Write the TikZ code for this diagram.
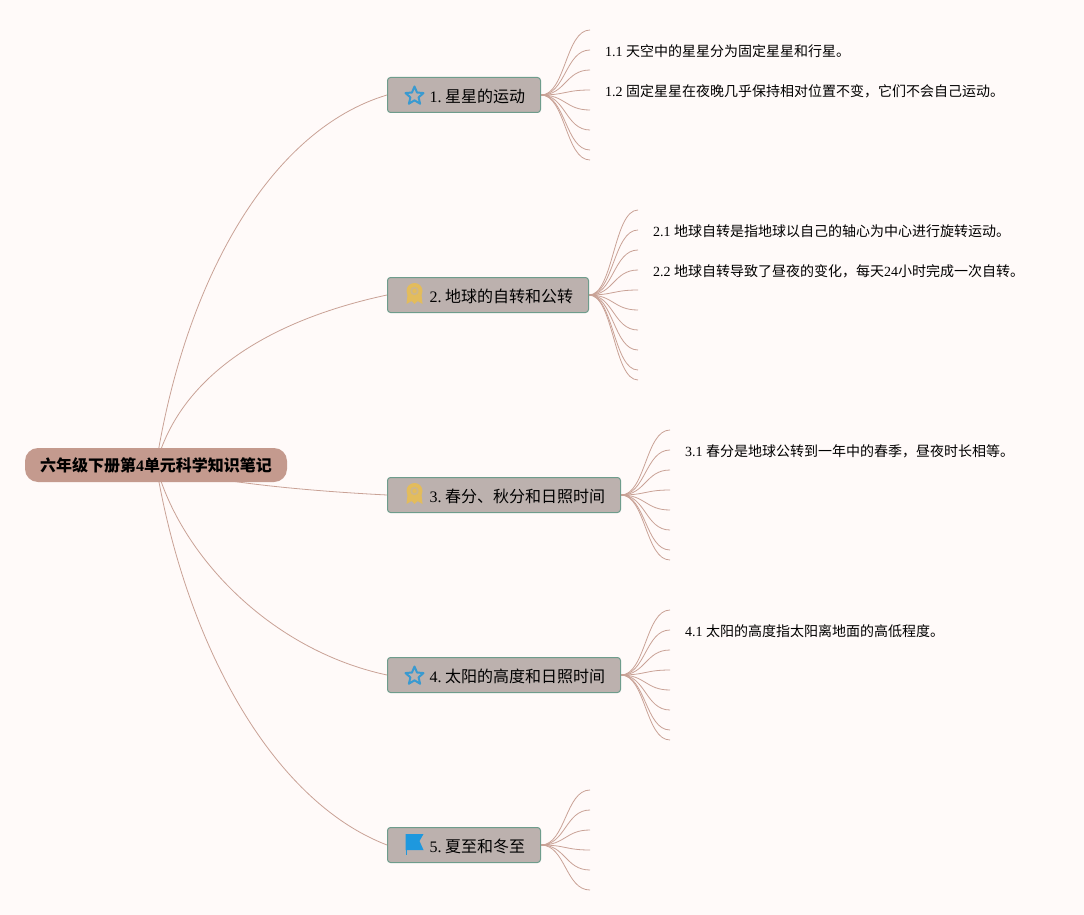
\documentclass[tikz,border=0pt]{standalone}
\usepackage{fontspec}
\setmainfont{Liberation Serif}
\newfontfamily\cjk{Noto Sans CJK SC}
\usetikzlibrary{backgrounds,shapes.geometric,calc}
\definecolor{pagebg}{HTML}{FFFAF9}
\definecolor{linkc}{HTML}{C9A296}
\definecolor{rootc}{HTML}{C49A8E}
\definecolor{boxc}{HTML}{BCB1AE}
\definecolor{boxedge}{HTML}{6E9C8C}
\definecolor{starc}{HTML}{3A9AD0}
\definecolor{medalc}{HTML}{E3BC5C}
\definecolor{flagc}{HTML}{1E98DE}
\tikzset{
  rootnode/.style={fill=rootc,rounded corners=13pt,minimum width=262pt,minimum height=34pt,inner sep=0pt,font=\bfseries\fontsize{16}{16}\selectfont},
  branch/.style={fill=boxc,draw=boxedge,line width=1pt,rounded corners=3pt,minimum height=35pt,inner sep=0pt,anchor=west},
  blabel/.style={anchor=west,inner sep=0pt,font=\fontsize{16}{16}\selectfont},
  leaf/.style={anchor=west,inner sep=0pt,font=\fontsize{14}{14}\selectfont},
  link/.style={draw=linkc,line width=.8pt},
  leaflink/.style={draw=linkc,line width=.8pt}
}
\newcommand{\medal}[2]{%
  \fill[medalc] (#1-7,#2+1) -- (#1-8,#2+10) -- (#1-3,#2+7) -- (#1,#2+10) -- (#1+3,#2+7) -- (#1+8,#2+10) -- (#1+7,#2+1) -- cycle;
  \fill[medalc] (#1,#2-3) circle[radius=8];
  \fill[boxc!55!medalc] (#1,#2-3) circle[radius=4.2];
  \fill[medalc] (#1,#2-3) circle[radius=2.2];
}
\newcommand{\staricon}[2]{%
  \node[star,star points=5,star point ratio=2.2,draw=starc,line width=2pt,minimum size=19pt,inner sep=0pt,line join=round] at (#1,#2) {};
}
\newcommand{\flagicon}[2]{%
  \fill[flagc] (#1-9,#2-10) -- (#1+9,#2-10) -- (#1+5,#2-3) -- (#1+9,#2+6) -- (#1-9,#2+6) -- cycle;
  \fill[flagc] (#1-9,#2-10) rectangle (#1-8,#2+11);
}
\newcommand{\fan}[3]{%
  \foreach \yy in {#3} {
    \coordinate (#1end\yy) at (#2,\yy);
    \path[leaflink] (#1.east) .. controls ($(#1.east)+(24.5,0)$) and ($(#2-24.5,\yy)$) .. (#1end\yy);
  }
}
\newcommand{\bgap}{\hspace{-1.8pt}}
\begin{document}
\begin{tikzpicture}[x=1pt,y=-1pt]
\useasboundingbox (0,0) rectangle (1084,915);

\node[rootnode] (root) at (156,465) {\cjk\bfseries 六年级下册第{\rmfamily\bfseries 4}单元科学知识笔记};

\node[branch,minimum width=153pt] (b1) at (387,95) {};
\node[branch,minimum width=201pt] (b2) at (387,295) {};
\node[branch,minimum width=233pt] (b3) at (387,495) {};
\node[branch,minimum width=233pt] (b4) at (387,675) {};
\node[branch,minimum width=153pt] (b5) at (387,845) {};

\node[blabel] (t1) at (429.5,96) {1. \bgap{\cjk 星星的运动}};
\node[blabel] (t2) at (429.5,296) {2. \bgap{\cjk 地球的自转和公转}};
\node[blabel] (t3) at (429.5,496) {3. \bgap{\cjk 春分、秋分和日照时间}};
\node[blabel] (t4) at (429.5,676) {4. \bgap{\cjk 太阳的高度和日照时间}};
\node[blabel] (t5) at (429.5,846) {5. \bgap{\cjk 夏至和冬至}};

\staricon{414.5}{96}
\medal{414.5}{294}
\medal{414.5}{494}
\staricon{414.5}{676}
\flagicon{414.5}{844}

\node[leaf] (l11) at (605,51) {1.1 {\cjk 天空中的星星分为固定星星和行星。}};
\node[leaf] (l12) at (605,91) {1.2 {\cjk 固定星星在夜晚几乎保持相对位置不变，它们不会自己运动。}};
\node[leaf] (l21) at (653,231) {2.1 {\cjk 地球自转是指地球以自己的轴心为中心进行旋转运动。}};
\node[leaf] (l22) at (653,271) {2.2 {\cjk 地球自转导致了昼夜的变化，每天}24{\cjk 小时完成一次自转。}};
\node[leaf] (l31) at (685,451) {3.1 {\cjk 春分是地球公转到一年中的春季，昼夜时长相等。}};
\node[leaf] (l41) at (685,631) {4.1 {\cjk 太阳的高度指太阳离地面的高低程度。}};

\begin{scope}[on background layer]
\fill[pagebg] (0,0) rectangle (1084,915);
\draw[link] (root.center) .. controls (185,280) and (270,130) .. (b1.west);
\draw[link] (root.center) .. controls (180,375) and (270,320) .. (b2.west);
\draw[link] (root.center) .. controls (200,480) and (290,490) .. (b3.west);
\draw[link] (root.center) .. controls (180,555) and (270,650) .. (b4.west);
\draw[link] (root.center) .. controls (185,640) and (270,800) .. (b5.west);
\fan{b1}{590}{30,50,70,90,110,130,150,160}
\fan{b2}{638}{210,230,250,270,290,310,330,350,370,380}
\fan{b3}{670}{430,450,470,490,510,530,550,560}
\fan{b4}{670}{610,630,650,670,690,710,730,740}
\fan{b5}{590}{790,810,830,850,870,890}
\end{scope}
\end{tikzpicture}
\end{document}
